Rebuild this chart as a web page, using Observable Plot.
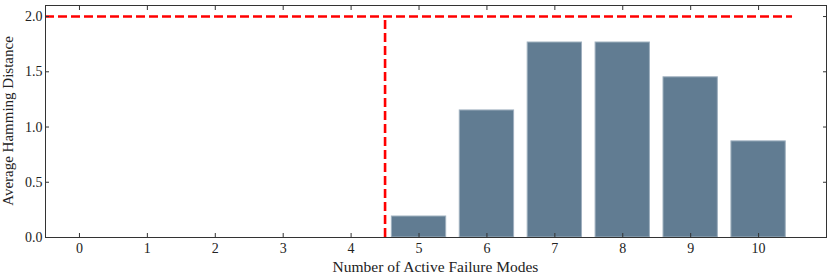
<!DOCTYPE html>
<html>
<head>
<meta charset="utf-8">
<script src="https://cdn.jsdelivr.net/npm/d3@7"></script>
<script src="https://cdn.jsdelivr.net/npm/@observablehq/plot@0.6"></script>
<style>
  html, body { margin: 0; padding: 0; background: #fff; }
</style>
</head>
<body>
<div id="chart"></div>
<script>
const modes = [0, 1, 2, 3, 4, 5, 6, 7, 8, 9, 10];
const avgHamming = [0, 0, 0, 0, 0, 0.19, 1.15, 1.765, 1.765, 1.45, 0.87];
const xTicks = [0, 1, 2, 3, 4, 5, 6, 7, 8, 9, 10];
const yTicks = [0, 0.5, 1.0, 1.5, 2.0];
const threshold = 2.0;
const cutoff = 4.5;

const data = modes.map((k, i) => ({k, v: avgHamming[i]}));

const font = "'Liberation Serif', 'DejaVu Serif', serif";
const plot = Plot.plot({
  width: 831,
  height: 278,
  marginLeft: 45,
  marginRight: 5,
  marginTop: 5,
  marginBottom: 41,
  style: {fontFamily: font, fontSize: "14px", color: "#222", background: "#fff"},
  x: {domain: [-0.5, 11], label: null},
  y: {domain: [0, 2.1], label: null},
  marks: [
    Plot.rectY(data.filter(d => d.v > 0), {
      x1: d => d.k - 0.4, x2: d => d.k + 0.4, y1: 0, y2: "v",
      fill: "#617c92", stroke: "#9fb0bf", strokeWidth: 1
    }),
    Plot.ruleY([threshold], {x1: -0.5, x2: 10.5, stroke: "#ff0000", strokeWidth: 2.6, strokeDasharray: "9,4"}),
    Plot.ruleX([cutoff], {y1: 0, y2: threshold, stroke: "#ff0000", strokeWidth: 2.6, strokeDasharray: "9,4"}),
    Plot.axisX(xTicks, {anchor: "bottom", tickSize: 0, tickPadding: 6, tickFormat: d => String(d), fontSize: 14, fill: "#222"}),
    Plot.axisX(xTicks, {anchor: "bottom", tickSize: -4, text: null, stroke: "#333"}),
    Plot.axisX(xTicks, {anchor: "top", tickSize: -4, text: null, stroke: "#333"}),
    Plot.axisY(yTicks, {anchor: "left", tickSize: 0, tickPadding: 3, tickFormat: d => d.toFixed(1), fontSize: 14, fill: "#222"}),
    Plot.axisY(yTicks, {anchor: "left", tickSize: -4, text: null, stroke: "#333"}),
    Plot.axisY(yTicks, {anchor: "right", tickSize: -4, text: null, stroke: "#333"}),
    Plot.frame({stroke: "#333", strokeWidth: 1})
  ]
});

const svg = d3.select(plot);
svg.append("text")
  .attr("x", 45 + (831 - 50) / 2)
  .attr("y", 272)
  .attr("text-anchor", "middle")
  .attr("font-family", font)
  .attr("font-size", 15.5)
  .attr("fill", "#222")
  .text("Number of Active Failure Modes");
svg.append("text")
  .attr("transform", `translate(13, ${5 + 232 / 2}) rotate(-90)`)
  .attr("text-anchor", "middle")
  .attr("font-family", font)
  .attr("font-size", 15)
  .attr("fill", "#222")
  .text("Average Hamming Distance");

document.getElementById("chart").appendChild(plot);
</script>
</body>
</html>
